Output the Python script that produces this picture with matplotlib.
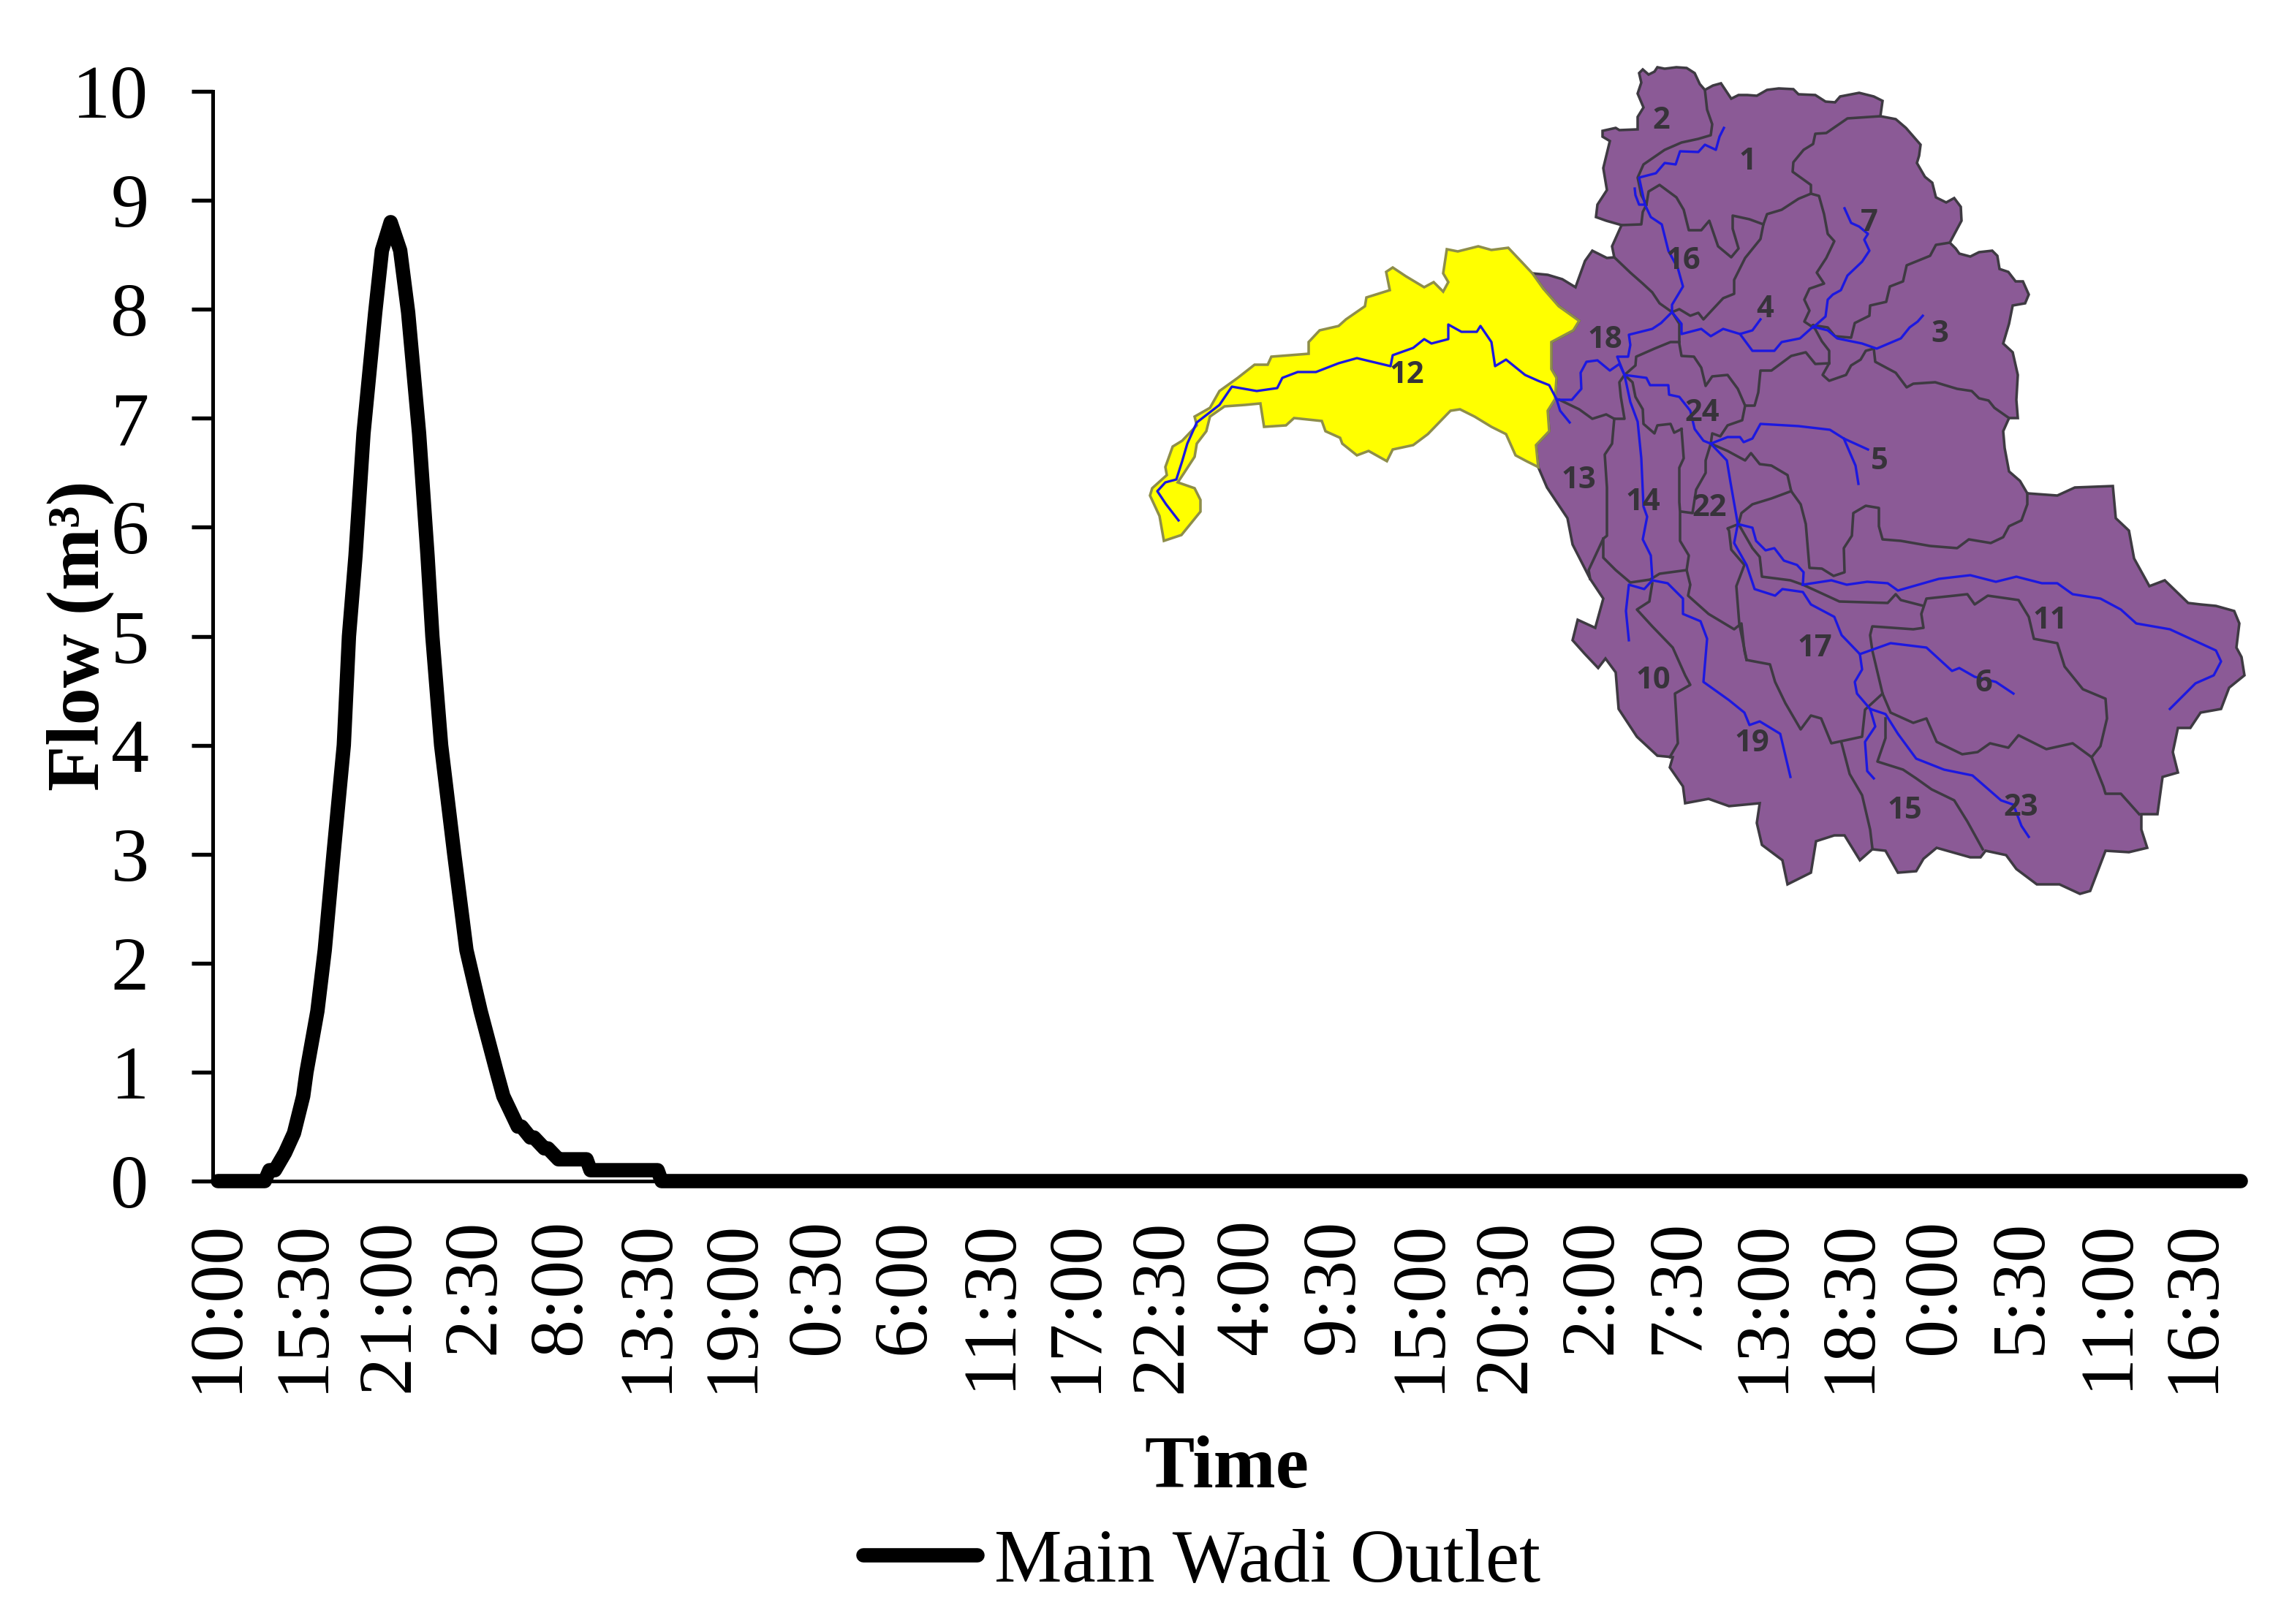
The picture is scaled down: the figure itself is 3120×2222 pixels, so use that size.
import matplotlib
matplotlib.use("Agg")
import matplotlib.pyplot as plt

plt.rcParams["font.family"] = ["Liberation Serif", "DejaVu Serif"]

# Hydrograph, hours after 10:00 and flow
time_hours = [0, 3.0, 3.3, 3.65, 4.3, 4.87, 5.46, 5.67, 6.37, 6.84, 7.4, 8.06, 8.39, 8.81, 9.32,
              10.07, 10.5, 11.06, 11.67, 12.18, 12.88, 13.42, 13.73, 14.29, 15.13, 15.91, 16.82,
              17.85, 18.27, 19.2, 19.44, 20.0, 20.24, 20.9, 21.13, 21.8, 22.02, 23.6, 23.85, 28.15, 28.4, 129.5]
flow_values = [0, 0, 0.1, 0.1, 0.26, 0.44, 0.78, 1.0, 1.56, 2.12, 3, 4, 5, 5.74, 6.86,
               7.97, 8.54, 8.8, 8.54, 7.97, 6.86, 5.74, 5, 4, 3, 2.12, 1.56,
               1.0, 0.78, 0.5, 0.5, 0.4, 0.4, 0.3, 0.3, 0.2, 0.2, 0.2, 0.1, 0.1, 0, 0]

tick_labels = ["10:00", "15:30", "21:00", "2:30", "8:00", "13:30", "19:00", "0:30", "6:00", "11:30",
               "17:00", "22:30", "4:00", "9:30", "15:00", "20:30", "2:00", "7:30", "13:00", "18:30",
               "0:00", "5:30", "11:00", "16:30"]
tick_hours = [i * 5.5 for i in range(len(tick_labels))]
y_ticks = list(range(0, 11))

# Inset map, vertices
basin_outline = [
    (2242,100),(2247,95),(2255,102),(2263,98),(2267,92),(2277,94),(2293,92),(2307,93),(2318,100),(2325,115),
    (2332,123),(2343,117),(2354,114),(2360,123),(2368,135),(2378,130),(2390,130),(2403,131),(2417,123),(2433,121),
    (2453,122),(2460,129),(2483,130),(2497,139),(2510,140),(2517,132),(2543,127),(2563,132),(2575,138),(2573,152),
    (2572,159),(2593,163),(2607,175),(2627,198),(2625,213),(2622,223),(2633,242),(2643,250),(2648,270),(2662,277),
    (2673,271),(2682,283),(2683,302),(2675,317),(2667,332),(2675,340),(2680,347),(2695,351),(2707,345),(2725,343),
    (2732,350),(2735,368),(2747,372),(2757,385),(2767,385),(2775,403),(2770,415),(2753,418),(2748,443),(2740,470),
    (2753,482),(2760,513),(2758,547),(2760,572),(2748,572),(2740,590),(2742,613),(2748,645),(2763,658),(2773,675),
    (2814,678),(2838,667),(2890,665),(2894,709),(2912,726),(2919,764),(2940,802),(2961,794),(2993,825),(3010,827),
    (3031,829),(3056,836),(3063,853),(3059,886),(3066,899),(3070,924),(3049,941),(3038,970),(3010,975),(2996,996),
    (2979,996),(2972,1029),(2979,1057),(2958,1063),(2951,1114),(2929,1114),(2929,1135),(2937,1160),(2912,1166),
    (2880,1164),(2859,1219),(2845,1223),(2817,1210),(2786,1210),(2758,1189),(2744,1170),(2716,1164),(2709,1173),
    (2695,1173),(2649,1160),(2631,1175),(2621,1192),(2596,1194),(2579,1164),(2561,1162),(2544,1177),(2523,1143),
    (2509,1143),(2484,1151),(2477,1194),(2445,1210),(2438,1177),(2410,1156),(2403,1126),(2407,1099),(2365,1103),
    (2337,1093),(2305,1099),(2302,1076),(2284,1050),(2288,1036),(2267,1034),(2239,1008),(2214,970),(2210,920),
    (2196,901),(2186,914),(2168,895),(2151,876),(2158,848),(2182,859),(2193,819),(2175,792),(2151,745),(2144,709),
    (2116,667),(2104,639),(2101,609),(2119,590),(2117,562),(2127,546),(2129,517),(2122,505),(2122,468),(2152,452),
    (2160,439),(2132,419),(2111,395),(2096,374),(2117,376),(2137,382),(2155,393),(2168,357),(2178,343),(2198,353),
    (2208,352),(2205,337),(2218,308),(2197,302),(2183,297),(2185,280),(2198,260),(2193,230),(2202,193),(2192,187),
    (2192,179),(2210,175),(2215,178),(2240,177),(2240,160),(2248,147),(2240,128),(2245,113),
]
yellow_outline = [
    (2096,374),(2081,358),(2063,339),(2040,342),(2022,337),(1994,344),(1979,341),(1974,374),(1981,386),(1974,399),
    (1961,386),(1948,393),(1923,378),(1905,366),(1896,372),(1901,397),(1869,407),(1867,419),(1841,437),(1831,446),
    (1805,452),(1790,468),(1790,484),(1739,488),(1734,499),(1716,499),(1693,517),(1668,535),(1655,558),(1634,570),
    (1637,582),(1617,603),(1604,611),(1594,639),(1596,650),(1576,668),(1573,678),(1586,706),(1592,740),(1616,732),
    (1642,700),(1642,684),(1634,668),(1611,660),(1619,648),(1634,625),(1637,607),(1650,590),(1655,570),(1675,556),
    (1703,554),(1724,552),(1729,584),(1759,582),(1770,572),(1808,576),(1813,590),(1833,599),(1836,607),(1856,623),
    (1872,617),(1897,631),(1905,615),(1933,609),(1953,594),(1984,562),(1997,560),(2017,570),(2040,584),(2060,594),
    (2073,623),(2088,631),(2104,639),(2101,609),(2119,590),(2117,562),(2127,546),(2129,517),(2122,505),(2122,468),
    (2152,452),(2160,439),(2132,419),(2111,395),
]

# sub-basin divides
divide_2_1 = [(2332,123),(2335,150),(2342,170),(2340,185),(2323,190),(2300,195),(2277,205),(2248,225),(2240,243),
              (2245,267),(2252,280),(2247,290),(2245,307),(2218,308)]
divide_1_16 = [(2252,280),(2255,262),(2270,253),(2293,270),(2303,287),(2310,315),(2327,315),(2338,302),(2350,337),
               (2368,352),(2378,340),(2370,313),(2370,295),(2393,300),(2412,307),(2417,293),(2437,287),(2460,272),
               (2477,265),(2477,253),(2452,235),(2453,222),(2467,205),(2480,197),(2483,183),(2498,182),(2527,162),(2572,159)]
divide_16_4 = [(2412,307),(2408,327),(2387,353),(2372,383),(2372,402),(2357,408),(2343,423),(2330,437),(2323,428),
               (2312,432),(2297,423),(2287,427)]
divide_16_18 = [(2208,352),(2230,373),(2247,388),(2260,400),(2270,415),(2287,427)]
divide_4_7 = [(2477,265),(2488,268),(2495,293),(2500,320),(2509,330),(2498,353),(2485,373),(2495,388),(2475,395),
              (2468,410),(2475,425),(2468,440),(2480,448)]
divide_7_3 = [(2667,332),(2648,335),(2640,350),(2608,363),(2603,385),(2585,392),(2580,413),(2558,418),(2557,432),
              (2537,442),(2532,462),(2510,460),(2500,448),(2480,445)]
divide_7_5 = [(2480,445),(2492,467),(2502,480),(2502,497),(2493,513),(2502,521),(2525,513),(2532,500),(2545,492),
              (2552,480),(2563,477)]
divide_3_5 = [(2563,477),(2565,495),(2593,510),(2608,530),(2617,525),(2647,523),(2677,532),(2697,535),(2707,545),
              (2720,548),(2728,558),(2748,572)]
divide_4_24 = [(2502,497),(2483,498),(2470,482),(2450,487),(2423,507),(2408,507),(2405,537),(2400,555),(2387,555),
               (2377,532),(2363,513),(2342,515),(2333,528),(2327,503),(2317,488),(2300,487),(2297,470),(2297,443),(2287,427)]
divide_24_5 = [(2387,555),(2383,575),(2363,582),(2353,597),(2342,593),(2340,607)]
divide_5_south = [(2340,607),(2363,617),(2387,630),(2395,620),(2407,635),(2423,637),(2445,650),(2450,672),(2463,690),
                  (2470,717),(2475,777),(2492,778),(2508,788),(2523,783),(2522,750),(2533,733),(2535,702),(2552,692),
                  (2570,695),(2570,720),(2575,738),(2600,740),(2640,747),(2677,750),(2693,738),(2723,743),(2740,735),
                  (2748,720),(2765,712),(2773,690),(2773,675)]
divide_22_south = [(2450,672),(2423,682),(2397,690),(2382,702),(2378,717),(2363,723),(2365,726),(2368,752),(2386,773),
                   (2375,802),(2379,853),(2389,903),(2421,909),(2428,933),(2442,962),(2463,998),(2477,979),(2491,983),
                   (2505,1017),(2547,1008),(2551,971),(2575,949),(2561,890),(2558,869),(2561,857),(2617,861),(2631,859),
                   (2628,840),(2635,819),(2673,815),(2691,813),(2701,827),(2719,815),(2761,821),(2775,844),(2782,874),
                   (2814,880),(2824,912),(2849,943),(2880,956),(2882,983),(2873,1021),(2861,1036)]
divide_inner = [(2378,717),(2397,750),(2407,762),(2410,789),(2449,794),(2466,800),(2516,823),(2582,825),(2593,813),
                (2600,821),(2631,829)]
divide_6_23 = [(2575,949),(2586,975),(2617,989),(2635,983),(2649,1015),(2684,1032),(2705,1029),(2722,1017),(2747,1023),
               (2761,1006),(2799,1025),(2835,1017),(2861,1036),(2877,1076),(2880,1086),(2901,1086),(2926,1114)]
divide_15_19 = [(2519,1017),(2530,1059),(2547,1088),(2558,1135),(2561,1160)]
divide_15_23 = [(2579,983),(2579,1010),(2568,1042),(2603,1053),(2621,1065),(2642,1080),(2673,1095),(2691,1124),(2712,1162)]
divide_10_19 = [(2260,798),(2256,823),(2239,834),(2260,857),(2288,886),(2305,924),(2312,937),(2291,949),(2295,1017),(2284,1036)]
divide_13_14 = [(2208,573),(2205,607),(2195,622),(2198,667),(2198,733),(2193,737),(2173,780),(2175,792)]
divide_14_10 = [(2193,737),(2193,763),(2210,780),(2230,797),(2257,793),(2270,785),(2307,780)]
divide_14_22 = [(2300,587),(2303,627),(2297,640),(2297,687),(2298,700),(2298,740),(2310,760),(2307,780),(2312,800),
                (2309,815),(2337,840),(2372,861),(2382,853),(2386,890),(2389,903)]
divide_14_24 = [(2300,587),(2290,592),(2285,580),(2267,582),(2263,593),(2248,580),(2247,560),(2237,543),(2233,523),(2222,513)]
divide_18_13 = [(2133,547),(2160,560),(2178,573),(2197,567),(2208,573),(2222,573),(2217,543),(2215,523),(2222,513),
                (2237,500),(2238,488),(2263,477),(2285,468),(2297,468)]
divide_22_24 = [(2340,607),(2333,630),(2333,647),(2320,670),(2315,702),(2300,700)]
subbasin_lines = [divide_2_1, divide_1_16, divide_16_4, divide_16_18, divide_4_7, divide_7_3, divide_7_5, divide_3_5,
                  divide_4_24, divide_24_5, divide_5_south, divide_22_south, divide_inner, divide_6_23, divide_15_19,
                  divide_15_23, divide_10_19, divide_13_14, divide_14_10, divide_14_22, divide_14_24, divide_18_13,
                  divide_22_24]

# streams
river_12 = [(1612,712),(1595,690),(1583,672),(1594,660),(1609,656),(1617,631),(1624,607),(1637,578),(1668,554),(1685,529),
            (1719,535),(1747,531),(1754,517),(1775,509),(1800,509),(1831,497),(1856,490),(1902,501),(1905,486),(1933,476),
            (1948,464),(1958,470),(1981,464),(1981,444),(1999,454),(2020,454),(2025,446),(2040,468),(2045,501),(2060,492),
            (2086,513),(2104,521),(2119,527),(2129,546)]
river_12b = [(2129,546),(2134,562),(2147,578)]
river_18 = [(2129,546),(2132,547),(2150,547),(2163,532),(2162,510),(2170,495),(2185,493),(2202,507),(2215,498),(2222,513)]
river_main_n = [(2222,513),(2212,488),(2227,488),(2230,472),(2228,458),(2260,450),(2272,442),(2287,427),(2287,417),(2302,392),
                (2295,367),(2282,343),(2273,307),(2258,297),(2250,280),(2242,243),(2265,237),(2277,223),(2292,225),(2298,207),
                (2323,208),(2332,198),(2347,205),(2352,187),(2358,175)]
river_2 = [(2250,280),(2242,280),(2237,267),(2236,258)]
river_4 = [(2287,427),(2300,443),(2300,457),(2327,450),(2340,460),(2357,450),(2380,457),(2397,452),(2408,437)]
river_4b = [(2380,457),(2397,480),(2427,480),(2437,468),(2462,463),(2480,447)]
river_7 = [(2480,448),(2497,433),(2500,410),(2507,403),(2518,397),(2527,377),(2547,358),(2557,343),(2550,328),(2555,320),
           (2543,310),(2532,305),(2523,285)]
river_3 = [(2480,447),(2500,452),(2513,463),(2547,470),(2567,477),(2600,463),(2612,448),(2623,440),(2630,432)]
river_24 = [(2222,513),(2252,517),(2257,527),(2282,527),(2283,540),(2297,543),(2312,562),(2318,587),(2330,603),(2340,607)]
river_5 = [(2340,607),(2363,598),(2380,598),(2385,605),(2397,600),(2408,580),(2460,583),(2503,588),(2522,600),(2555,615)]
river_5b = [(2522,600),(2538,637),(2542,662)]
river_22 = [(2340,607),(2362,630),(2367,660),(2377,717)]
river_upper_11 = [(2377,717),(2397,722),(2402,740),(2415,753),(2427,750),(2440,767),(2458,773),(2467,783),(2466,800)]
river_11 = [(2466,800),(2505,794),(2526,800),(2554,796),(2582,798),(2596,808),(2652,792),(2695,787),(2730,796),(2758,789),
            (2793,798),(2814,798),(2835,813),(2873,819),(2901,834),(2922,853),(2968,861),(3031,890),(3038,905),(3028,924),
            (3003,935),(2968,970)]
river_17 = [(2377,717),(2372,743),(2389,773),(2400,806),(2428,815),(2438,806),(2466,810),(2477,827),(2509,844),(2519,869),(2544,895)]
river_6 = [(2544,895),(2586,880),(2635,886),(2670,918),(2680,914),(2701,926),(2730,933),(2754,949)]
river_lower = [(2544,895),(2547,916),(2537,933),(2540,949),(2558,970)]
river_15 = [(2558,970),(2565,994),(2551,1015),(2554,1055),(2563,1065)]
river_23 = [(2558,970),(2579,977),(2596,1004),(2621,1038),(2659,1053),(2698,1061),(2737,1095),(2754,1101),(2765,1130),(2775,1145)]
river_14 = [(2222,513),(2230,550),(2240,577),(2245,627),(2248,693),(2253,707),(2247,738),(2258,760),(2260,790)]
river_10 = [(2260,794),(2249,806),(2228,800),(2224,836),(2228,876)]
river_19 = [(2260,794),(2281,798),(2302,819),(2302,840),(2326,850),(2335,874),(2330,933),(2365,958),(2386,975),(2393,992),
            (2407,987),(2435,1004),(2449,1063)]
river_lines = [river_12, river_12b, river_18, river_main_n, river_2, river_4, river_4b, river_7, river_3, river_24, river_5,
               river_5b, river_22, river_upper_11, river_11, river_17, river_6, river_lower, river_15, river_23, river_14,
               river_10, river_19]

basin_ids = ["2", "1", "7", "16", "4", "3", "18", "12", "24", "5", "13", "14", "22", "11", "17", "10", "6", "19", "15", "23"]
basin_x = [2272, 2390, 2557, 2302, 2414, 2653, 2195, 1924, 2328, 2571, 2159, 2247, 2338, 2804, 2482, 2261, 2713, 2396, 2605, 2764]
basin_y = [166, 222, 305, 358, 423, 457, 465, 514, 566, 632, 658, 688, 696, 849, 887, 932, 936, 1018, 1109, 1105]

W, H = 3120, 2222
fig = plt.figure(figsize=(W / 300, H / 300), dpi=300)

# Map layer uses picture pixels as its coordinates
map_ax = fig.add_axes([0, 0, 1, 1], zorder=1)
map_ax.set_xlim(0, W)
map_ax.set_ylim(H, 0)
map_ax.axis("off")

map_ax.fill(*zip(*basin_outline), facecolor="#8B5A96", edgecolor="#3E3A42", linewidth=0.85)
map_ax.fill(*zip(*yellow_outline), facecolor="#FFFF00", edgecolor="#8E8E4A", linewidth=0.85)
for line in subbasin_lines:
    map_ax.plot(*zip(*line), color="#3E3A42", linewidth=0.85, solid_joinstyle="round")
for line in river_lines:
    map_ax.plot(*zip(*line), color="#1C18E0", linewidth=0.8, solid_joinstyle="round")
for name, x, y in zip(basin_ids, basin_x, basin_y):
    map_ax.text(x, y, name, family="Open Sans", fontweight="bold", fontsize=10, color="#37333A",
                ha="center", va="center")

# Hydrograph
ax = fig.add_axes([291 / W, 1 - 1616 / H, (3065 - 291) / W, (1616 - 125) / H], zorder=2)
ax.patch.set_alpha(0)
ax.plot(time_hours, flow_values, color="black", linewidth=4.7, clip_on=False,
        solid_capstyle="round", solid_joinstyle="round", label="Main Wadi Outlet", zorder=5)
ax.set_xlim(-0.33, 129.5)
ax.set_ylim(0, 10)
ax.set_yticks(y_ticks)
ax.set_xticks(tick_hours)
ax.set_xticklabels(tick_labels, rotation=90)
ax.tick_params(axis="x", length=0, pad=12.5, labelsize=25)
ax.tick_params(axis="y", length=7, width=1.3, pad=14, labelsize=25)
ax.spines["top"].set_visible(False)
ax.spines["right"].set_visible(False)
ax.spines["left"].set_linewidth(1.2)
ax.spines["bottom"].set_linewidth(1.2)

ax.set_xlabel("Time", fontsize=24.5, fontweight="bold", va="center")
ax.xaxis.set_label_coords(1678 / W, 1 - 2010 / H, transform=fig.transFigure)
ax.set_ylabel("Flow (m³)", fontsize=24.5, fontweight="bold", va="center")
ax.yaxis.set_label_coords(110 / W, 1 - 870 / H, transform=fig.transFigure)

ax.legend(loc="center", bbox_to_anchor=(1644 / W, 1 - 2139 / H), bbox_transform=fig.transFigure,
          frameon=False, fontsize=25, handlelength=1.5, handletextpad=0.22, borderpad=0, borderaxespad=0)

fig.savefig("out.png", dpi=300, facecolor="white")
